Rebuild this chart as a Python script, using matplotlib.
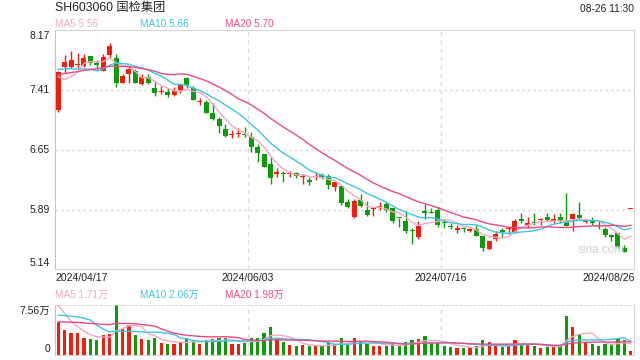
import numpy as np
import matplotlib
matplotlib.use('Agg')
import matplotlib.pyplot as plt

plt.rcParams['font.family'] = ['Liberation Sans', 'Noto Sans CJK SC', 'DejaVu Sans']

# ---------------- data ----------------
title = 'SH603060 国检集团'
timestamp = '08-26 11:30'
price_ma_labels = ['MA5 5.56', 'MA10 5.66', 'MA20 5.70']
vol_ma_labels = ['MA5 1.71万', 'MA10 2.06万', 'MA20 1.98万']
price_ticks = [8.17, 7.41, 6.65, 5.89, 5.14]
price_tick_labels = ['8.17', '7.41', '6.65', '5.89', '5.14']
vol_max = 7.56
vol_tick_labels = ['7.56万', '0']
date_labels = ['2024/04/17', '2024/06/03', '2024/07/16', '2024/08/26']

opens = [7.15, 7.705, 7.705, 7.725, 7.718, 7.84, 7.747, 7.654, 7.853, 7.811,
         7.502, 7.608, 7.65, 7.481, 7.578, 7.43, 7.38, 7.388, 7.342, 7.409,
         7.557, 7.43, 7.26, 7.261, 7.113, 7.037, 6.91, 6.835, 6.85, 6.84,
         6.809, 6.691, 6.598, 6.471, 6.35, 6.345, 6.34, 6.353, 6.31, 6.268,
         6.302, 6.33, 6.323, 6.184, 6.192, 5.985, 5.795, 6.015, 5.888, 5.90,
         5.909, 5.964, 5.909, 5.785, 5.748, 5.626, 5.55, 5.875, 5.856, 5.888,
         5.73, 5.685, 5.64, 5.65, 5.626, 5.647, 5.558, 5.393, 5.524, 5.634,
         5.645, 5.613, 5.774, 5.70, 5.725, 5.76, 5.799, 5.749, 5.799, 5.74,
         5.77, 5.825, 5.73, 5.753, 5.695, 5.647, 5.571, 5.592, 5.406, 5.90]
highs = [7.65, 7.853, 7.904, 7.883, 7.861, 7.84, 7.79, 7.866, 8.009, 7.866,
         7.608, 7.714, 7.671, 7.608, 7.608, 7.515, 7.46, 7.43, 7.443, 7.473,
         7.578, 7.46, 7.304, 7.283, 7.24, 7.063, 6.978, 6.902, 6.923, 6.936,
         6.881, 6.725, 6.60, 6.564, 6.416, 6.387, 6.387, 6.374, 6.344, 6.31,
         6.374, 6.36, 6.34, 6.239, 6.192, 6.023, 6.023, 6.091, 6.002, 5.93,
         5.994, 5.985, 5.909, 5.785, 5.88, 5.656, 5.748, 5.96, 5.918, 5.93,
         5.78, 5.72, 5.698, 5.677, 5.66, 5.698, 5.558, 5.499, 5.622, 5.664,
         5.665, 5.77, 5.846, 5.803, 5.854, 5.791, 5.854, 5.837, 5.846, 6.099,
         5.854, 5.994, 5.77, 5.803, 5.753, 5.677, 5.584, 5.592, 5.444, 5.90]
lows = [7.13, 7.621, 7.684, 7.684, 7.697, 7.726, 7.671, 7.654, 7.811, 7.443,
        7.502, 7.494, 7.494, 7.473, 7.485, 7.333, 7.36, 7.325, 7.333, 7.367,
        7.43, 7.283, 7.219, 7.113, 7.029, 6.868, 6.818, 6.797, 6.818, 6.818,
        6.627, 6.501, 6.43, 6.218, 6.31, 6.239, 6.302, 6.289, 6.213, 6.205,
        6.268, 6.28, 6.154, 6.129, 5.951, 5.909, 5.782, 5.93, 5.816, 5.816,
        5.888, 5.867, 5.727, 5.677, 5.60, 5.457, 5.52, 5.77, 5.854, 5.677,
        5.66, 5.647, 5.592, 5.613, 5.61, 5.563, 5.372, 5.381, 5.499, 5.55,
        5.584, 5.60, 5.719, 5.677, 5.698, 5.698, 5.753, 5.719, 5.719, 5.69,
        5.618, 5.761, 5.72, 5.698, 5.647, 5.541, 5.499, 5.402, 5.351, 5.90]
closes = [7.642, 7.76, 7.79, 7.73, 7.811, 7.756, 7.73, 7.823, 7.967, 7.494,
          7.587, 7.671, 7.502, 7.57, 7.502, 7.367, 7.385, 7.342, 7.397, 7.473,
          7.473, 7.283, 7.265, 7.122, 7.037, 6.957, 6.826, 6.84, 6.856, 6.835,
          6.691, 6.606, 6.437, 6.30, 6.355, 6.34, 6.345, 6.323, 6.315, 6.247,
          6.323, 6.29, 6.20, 6.239, 5.981, 5.93, 6.002, 5.943, 5.825, 5.905,
          5.943, 5.888, 5.753, 5.782, 5.626, 5.622, 5.69, 5.854, 5.854, 5.698,
          5.72, 5.677, 5.645, 5.643, 5.647, 5.563, 5.402, 5.499, 5.584, 5.605,
          5.65, 5.749, 5.749, 5.72, 5.72, 5.765, 5.761, 5.774, 5.744, 5.69,
          5.84, 5.79, 5.735, 5.719, 5.69, 5.571, 5.55, 5.415, 5.36, 5.90]
volumes = [5.0, 3.8, 3.3, 3.3, 2.6, 2.4, 2.2, 3.0, 3.2, 7.56,
           3.9, 4.5, 3.0, 2.4, 2.2, 2.6, 1.8, 1.6, 1.7, 1.9,
           2.5, 2.3, 1.6, 2.2, 2.4, 2.6, 2.5, 1.7, 1.6, 1.8,
           2.6, 2.6, 3.3, 4.3, 2.4, 2.0, 1.5, 1.4, 1.5, 1.3,
           1.4, 1.3, 1.8, 1.6, 2.5, 1.7, 2.6, 2.0, 1.7, 1.4,
           1.3, 1.3, 1.8, 1.3, 2.0, 2.2, 2.4, 2.8, 1.6, 2.0,
           1.4, 1.2, 1.1, 1.0, 1.0, 1.3, 2.2, 1.9, 1.5, 1.2,
           1.3, 2.3, 1.7, 1.5, 1.4, 1.1, 1.2, 1.3, 1.3, 5.9,
           4.3, 3.0, 1.8, 1.6, 1.35, 1.6, 1.5, 2.6, 2.3, 0.55]
# sessions before the window (only used for the moving averages)
prior_closes = [7.45, 7.48, 7.50, 7.52, 7.55, 7.50, 7.55, 7.58, 7.60, 7.57,
                7.70, 7.75, 7.80, 7.78, 7.78, 7.95, 7.59, 7.48, 7.23]
prior_volumes = [3.8, 4.2, 3.9, 4.0, 4.1, 3.7, 4.3, 4.0, 3.9, 4.1,
                 4.0, 4.5, 4.2, 4.8, 5.0, 10.0, 9.0, 7.5, 6.0]

# ---------------- style ----------------
RED = '#F21D0C'
GREEN = '#0C9B0C'
MA_COLORS = ['#F7A6C0', '#3CC4E4', '#EB4A84']
GRID = '#DADADA'
BORDER = '#D6D6D6'
TXT = '#222222'
W, H = 640, 360


def fx(px):
    return px / W


def fy(py):
    return 1 - py / H


def mov_avg(prior, vals, n):
    allv = np.array(prior + vals, dtype=float)
    k = len(prior)
    return np.array([allv[k + i - n + 1:k + i + 1].mean() for i in range(len(vals))])


fig = plt.figure(figsize=(6.4, 3.6), dpi=100)
fig.patch.set_facecolor('white')

n = len(closes)
x = np.arange(n) + 0.5
o = np.array(opens); c = np.array(closes); h = np.array(highs); l = np.array(lows)
cols = [RED if cc >= oo else GREEN for oo, cc in zip(o, c)]

# ---- price panel ----
ax = fig.add_axes([fx(55), fy(269), fx(579), 239 / H])
ax.set_xlim(0, n)
ax.set_ylim(price_ticks[-1], price_ticks[0])
for v in price_ticks[1:-1]:
    ax.axhline(v, color=GRID, lw=1, ls=(0, (2, 2)), zorder=0)
for xv in (n / 3, 2 * n / 3):
    ax.axvline(xv, color=GRID, lw=1, ls=(0, (3, 3)), zorder=0)

body_b = np.minimum(o, c)
body_h = np.maximum(np.abs(c - o), 0.014)
ax.vlines(x, l, h, colors=cols, lw=1, zorder=2)
ax.bar(x, body_h, bottom=body_b, width=0.78, color=cols, lw=0, zorder=3)

for per, col in zip((5, 10, 20), MA_COLORS):
    ax.plot(x, mov_avg(prior_closes, closes, per), color=col, lw=1, zorder=4)

for s in ('top', 'right', 'bottom'):
    ax.spines[s].set_color(BORDER)
ax.spines['left'].set_color('#C4C4C4')
ax.set_xticks([]); ax.set_yticks([])

for i, (v, s) in enumerate(zip(price_ticks, price_tick_labels)):
    va = 'top' if i == 0 else ('bottom' if i == len(price_ticks) - 1 else 'center')
    dy = -1 if i == 0 else (1 if i == len(price_ticks) - 1 else 0)
    ax.annotate(s, xy=(0, v), xycoords=('axes fraction', 'data'),
                xytext=(-5 * 0.72, dy * 0.72), textcoords='offset points',
                ha='right', va=va, fontsize=7.5, color=TXT)

ax.text(0.985, 0.08, 'sina.com', transform=ax.transAxes, ha='right', va='center',
        fontsize=8.5, color='#CFCFCF')

# ---- header texts ----
fig.text(fx(55), fy(8), title, ha='left', va='center', fontsize=8.8, color=TXT)
fig.text(fx(634), fy(9), timestamp, ha='right', va='center', fontsize=7.4, color=TXT)
for s, col, px in zip(price_ma_labels, MA_COLORS, (55, 140, 225)):
    fig.text(fx(px), fy(24), s, ha='left', va='center', fontsize=7.2, color=col)

# ---- date labels ----
for s, px, ha in zip(date_labels, (55, 248, 441, 635), ('left', 'center', 'center', 'right')):
    fig.text(fx(px), fy(278), s, ha=ha, va='center', fontsize=7.6, color=TXT)

for s, col, px in zip(vol_ma_labels, MA_COLORS, (55, 140, 225)):
    fig.text(fx(px), fy(295), s, ha='left', va='center', fontsize=7.2, color=col)

# ---- volume panel ----
axv = fig.add_axes([fx(55), fy(355), fx(579), 50 / H])
axv.set_xlim(0, n)
axv.set_ylim(0, vol_max)
for xv in (n / 3, 2 * n / 3):
    axv.axvline(xv, color=GRID, lw=1, ls=(0, (3, 3)), zorder=0)
axv.bar(x, volumes, width=0.5, color=cols, lw=0, zorder=2)
for per, col in zip((5, 10, 20), MA_COLORS):
    axv.plot(x, mov_avg(prior_volumes, volumes, per), color=col, lw=1, zorder=3)
axv.spines['top'].set_color(GRID)
axv.spines['top'].set_linestyle((0, (2, 2)))
for s in ('right', 'bottom'):
    axv.spines[s].set_color(BORDER)
axv.spines['left'].set_color('#C4C4C4')
axv.set_xticks([]); axv.set_yticks([])
axv.annotate(vol_tick_labels[0], xy=(0, 1), xycoords='axes fraction',
             xytext=(-5 * 0.72, -1 * 0.72), textcoords='offset points',
             ha='right', va='top', fontsize=7.5, color=TXT)
axv.annotate(vol_tick_labels[1], xy=(0, 0), xycoords='axes fraction',
             xytext=(-5 * 0.72, 1 * 0.72), textcoords='offset points',
             ha='right', va='bottom', fontsize=7.5, color=TXT)

fig.savefig('out.png', dpi=100, facecolor='white')
